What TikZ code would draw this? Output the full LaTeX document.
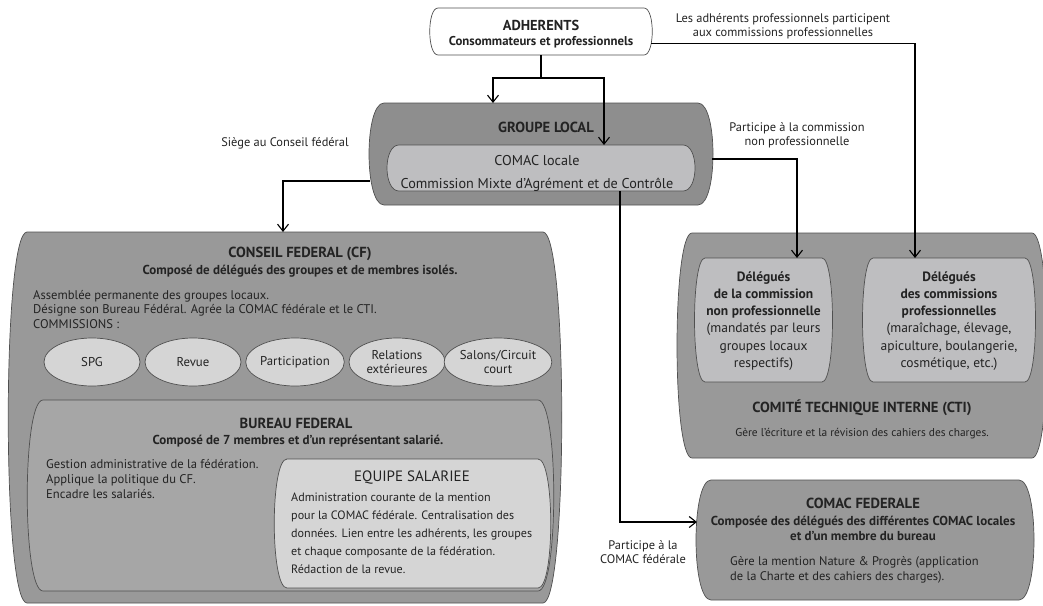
\documentclass[tikz,border=0pt]{standalone}
\usepackage{fontspec}
\setmainfont{PT Sans}
\usetikzlibrary{arrows.meta,calc,shapes.geometric}
\definecolor{EdgeClr}{RGB}{80,80,80}
\definecolor{TextClr}{RGB}{35,35,35}
\definecolor{GroupClr}{RGB}{142,142,142}
\definecolor{OuterClr}{RGB}{153,153,153}
\definecolor{BureauClr}{RGB}{166,166,166}
\definecolor{InnerClr}{RGB}{190,190,192}
\definecolor{LightClr}{RGB}{213,213,213}

\newcommand{\BulgeBox}[3]{%
  \filldraw[fill=#2,draw=EdgeClr,line width=.7pt] (#1.north west) -- (#1.north east)
    .. controls ($(#1.north east)+(#3,0)$) and ($(#1.south east)+(#3,0)$) .. (#1.south east)
    -- (#1.south west)
    .. controls ($(#1.south west)+(-#3,0)$) and ($(#1.north west)+(-#3,0)$) .. cycle;}

\begin{document}
\begin{tikzpicture}[x=1pt,y=-1pt,
  box/.style={inner sep=0pt,outer sep=0pt},
  arr/.style={line width=1.4pt,-{Straight Barb[length=7pt,width=11pt,line width=1.1pt]}},
  txt/.style={inner sep=0pt,text=TextClr,font=\fontsize{12.6}{14.5}\selectfont},
  ttl/.style={inner sep=0pt,text=TextClr,font=\bfseries\fontsize{14.6}{16}\selectfont},
  sub/.style={inner sep=0pt,text=TextClr,align=center,font=\bfseries\fontsize{13}{15}\selectfont},
  lbl/.style={inner sep=0pt,text=TextClr,align=center,font=\fontsize{12.4}{14}\selectfont},
  commission/.style={ellipse,fill=LightClr,draw=EdgeClr,line width=.7pt,inner sep=0pt,
    minimum width=96pt,minimum height=48pt,align=center,text=TextClr,
    font=\fontsize{12.8}{14}\selectfont}]
\useasboundingbox (0,0) rectangle (1043,605);

\node[box,minimum width=206pt,minimum height=47pt] (adh) at (541,31.5) {};
\node[box,minimum width=314pt,minimum height=102pt] (grp) at (541,154) {};
\node[box,minimum width=284pt,minimum height=46pt] (comacl) at (541,168) {};
\node[box,minimum width=516pt,minimum height=371pt] (cf) at (285,417.5) {};
\node[box,minimum width=495pt,minimum height=191pt] (bur) at (290.5,495.5) {};
\node[box,minimum width=251pt,minimum height=129pt] (equ) at (412.5,523.5) {};
\node[box,minimum width=340pt,minimum height=225pt] (cti) at (862,345.5) {};
\node[box,minimum width=117pt,minimum height=124pt] (dnp) at (763.5,320) {};
\node[box,minimum width=152pt,minimum height=124pt] (dpr) at (949,320) {};
\node[box,minimum width=308pt,minimum height=120pt] (cfed) at (865,540) {};

\BulgeBox{adh}{white}{11}
\BulgeBox{grp}{GroupClr}{20}
\BulgeBox{comacl}{InnerClr}{16}
\BulgeBox{cf}{OuterClr}{25}
\BulgeBox{bur}{BureauClr}{21}
\BulgeBox{equ}{LightClr}{17}
\BulgeBox{cti}{OuterClr}{20}
\BulgeBox{dnp}{InnerClr}{14}
\BulgeBox{dpr}{InnerClr}{14}
\BulgeBox{cfed}{OuterClr}{20}

\node[commission] (spg) at (92,362) {SPG};
\node[commission] (revue) at (193,362) {Revue};
\node[commission] (particip) at (295,362) {Participation};
\node[commission] (relext) at (397,362) {Relations\\extérieures};
\node[commission] (salons) at (498,362) {Salons/Circuit\\court};

\node[sub,font=\bfseries\fontsize{12.8}{15.5}\selectfont] (adhT) at (541,34) {{\fontsize{14.4}{15}\selectfont ADHERENTS}\\Consommateurs et professionnels};
\node[ttl] (grpT) at (546,127) {GROUPE LOCAL};
\node[txt,align=center,font=\fontsize{14.2}{23}\selectfont] (comaclT) at (537,173) {COMAC locale\\Commission Mixte d’Agrément et de Contrôle};

\node[ttl] (cfT) at (300,254) {CONSEIL FEDERAL (CF)};
\node[sub] (cfS) at (300,271) {Composé de délégués des groupes et de membres isolés.};
\node[txt,anchor=north west,align=left] (cfB) at (33,290) {Assemblée permanente des groupes locaux.\\Désigne son Bureau Fédéral. Agrée la COMAC fédérale et le CTI.\\COMMISSIONS :};

\node[ttl] (burT) at (296,423) {BUREAU FEDERAL};
\node[sub] (burS) at (298,441) {Composé de 7 membres et d’un représentant salarié.};
\node[txt,anchor=north west,align=left,font=\fontsize{12.6}{15}\selectfont] (burB) at (46,459) {Gestion administrative de la fédération.\\Applique la politique du CF.\\Encadre les salariés.};

\node[txt,font=\fontsize{15}{17}\selectfont] (equT) at (412,478) {EQUIPE SALARIEE};
\node[txt,anchor=north west,align=left,font=\fontsize{12.1}{18}\selectfont] (equB) at (291,493) {Administration courante de la mention\\pour la COMAC fédérale. Centralisation des\\données. Lien entre les adhérents, les groupes\\et chaque composante de la fédération.\\Rédaction de la revue.};

\node[txt,align=center,font=\fontsize{13.5}{17.2}\selectfont] (dnpT) at (763.5,321) {\textbf{Délégués}\\\textbf{de la commission}\\\textbf{non professionnelle}\\(mandatés par leurs\\groupes locaux\\respectifs)};
\node[txt,align=center,font=\fontsize{13.5}{17.2}\selectfont] (dprT) at (949,321) {\textbf{Délégués}\\\textbf{des commissions}\\\textbf{professionnelles}\\(maraîchage, élevage,\\apiculture, boulangerie,\\cosmétique, etc.)};
\node[ttl] (ctiT) at (862,408) {COMITÉ TECHNIQUE INTERNE (CTI)};
\node[txt,font=\fontsize{11.4}{14}\selectfont] (ctiB) at (862,434) {Gère l’écriture et la révision des cahiers des charges.};

\node[ttl] (cfedT) at (863,503) {COMAC FEDERALE};
\node[sub] (cfedS) at (863,528) {Composée des délégués des différentes COMAC locales\\et d’un membre du bureau};
\node[txt,anchor=north west,align=left,font=\fontsize{12.5}{15}\selectfont] (cfedB) at (730,556) {Gère la mention Nature \& Progrès (application\\de la Charte et des cahiers des charges).};

\node[lbl] (lblpro) at (783,26) {Les adhérents professionnels participent\\aux commissions professionnelles};
\node[lbl] (lblcf) at (285,143) {Siège au Conseil fédéral};
\node[lbl] (lblnp) at (797,135) {Participe à la commission\\non professionnelle};
\node[lbl] (lblfed) at (643,552) {Participe à la\\COMAC fédérale};

\draw[arr] (adh.south) -- ++(0,23) coordinate (split) -| ($(grp.north)+(-48,0)$);
\draw[arr] (split) -| ($(comacl.north)+(63,0)$);
\draw[arr] ($(adh.east)+(7,12)$) -| ($(dpr.north)+(-34,0)$);
\draw[arr] ($(grp.west)+(-14,27)$) -| ($(cf.north)+(-2,0)$);
\draw[arr] ($(grp.east)+(14,5)$) -| ($(dnp.north)+(33.5,0)$);
\draw[arr] ($(comacl.south)+(79,0)$) |- ($(cfed.west)+(-14,-18)$);
\end{tikzpicture}
\end{document}
